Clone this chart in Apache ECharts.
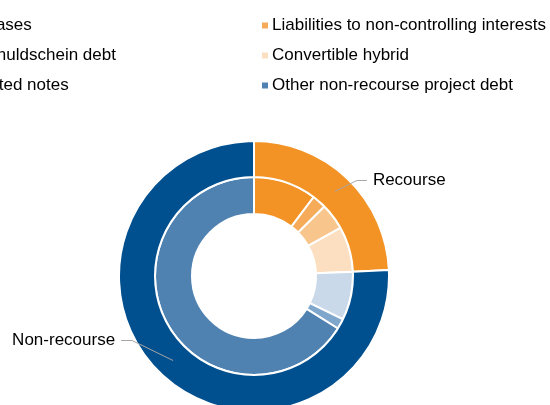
<!DOCTYPE html>
<html>
<head>
<meta charset="utf-8">
<script src="https://cdn.jsdelivr.net/npm/echarts@6/dist/echarts.min.js"></script>
<style>
  html, body { margin: 0; padding: 0; background: #fff; overflow: hidden; }
  #debt_chart { width: 550px; height: 405px; }
</style>
</head>
<body>
<div id="debt_chart"></div>
<script>
// inner ring: debt instruments (share of total, %)
var innerNames = ['Listed notes', 'Liabilities to non-controlling interests', 'Schuldschein debt',
                  'Convertible hybrid', 'Leases', 'Non-recourse bonds', 'Other non-recourse project debt'];
var innerValues = [10.3, 2.3, 4.3, 7.4, 7.9, 1.7, 66.1];
var innerColors = ['#F39325', '#F5AB5A', '#F8C68C', '#FCDFC0', '#C9D9EA', '#7FA6CB', '#4F82B1'];

// outer ring: recourse vs non-recourse
var outerNames = ['Recourse', 'Non-recourse'];
var outerValues = [24.3, 75.7];
var outerColors = ['#F39325', '#004F8F'];

// legend columns
var legendLeft = ['Leases', 'Schuldschein debt', 'Listed notes'];
var legendRight = ['Liabilities to non-controlling interests', 'Convertible hybrid', 'Other non-recourse project debt'];

var debt_chart = echarts.init(document.getElementById('debt_chart'));

function toData(names, values, colors) {
	var out = [];
	for (var i = 0; i < names.length; i++) {
		out.push({ name: names[i], value: values[i], itemStyle: { color: colors[i] } });
	}
	return out;
}

var legendBase = {
	orient: 'vertical',
	top: 17,
	padding: 0,
	icon: 'rect',
	itemWidth: 6,
	itemHeight: 6,
	itemGap: 13,
	selectedMode: false,
	itemStyle: { borderWidth: 0 },
	textStyle: { fontFamily: 'Liberation Sans, Arial', fontSize: 17, color: '#000', padding: [0, 0, 0, -1] }
};

var option = {
	animation: false,
	legend: [
		Object.assign({}, legendBase, { left: -33, data: legendLeft }),
		Object.assign({}, legendBase, { left: 262, data: legendRight })
	],
	series: [
		{
			name: 'inner',
			type: 'pie',
			center: [254, 276],
			radius: [62, 99],
			startAngle: 90,
			silent: true,
			label: { show: false },
			labelLine: { show: false },
			itemStyle: { borderColor: '#fff', borderWidth: 2 },
			data: toData(innerNames, innerValues, innerColors)
		},
		{
			name: 'outer',
			type: 'pie',
			center: [254, 276],
			radius: [99, 135],
			startAngle: 90,
			silent: true,
			label: { show: false },
			labelLine: { show: false },
			itemStyle: { borderColor: '#fff', borderWidth: 2 },
			data: toData(outerNames, outerValues, outerColors)
		},
		{
			// transparent helper so the label lines start mid-ring
			name: 'labels',
			type: 'pie',
			z: 5,
			center: [254, 276],
			radius: [0, 117],
			startAngle: 90,
			silent: true,
			itemStyle: { color: 'rgba(0,0,0,0)', borderWidth: 0 },
			label: {
				show: true,
				position: 'outside',
				fontFamily: 'Liberation Sans, Arial',
				fontSize: 17,
				color: '#000'
			},
			labelLine: { show: true, length: 20, length2: 10, smooth: false, lineStyle: { color: '#A6A6A6', width: 1 } },
			labelLayout: function (p) {
				var a = p.labelLinePoints ? p.labelLinePoints[0] : [0, 0];
				if (p.dataIndex === 0) {
					var x = a[0] + 38, y = a[1] - 11;
					return { x: x, y: y, align: 'left', verticalAlign: 'middle',
						labelLinePoints: [a, [x - 16, y], [x - 6, y]] };
				}
				var x2 = a[0] - 58, y2 = a[1] - 20;
				return { x: x2, y: y2, align: 'right', verticalAlign: 'middle',
					labelLinePoints: [a, [x2 + 17, y2], [x2 + 6, y2]] };
			},
			data: toData(outerNames, outerValues, ['rgba(0,0,0,0)', 'rgba(0,0,0,0)'])
		}
	]
};
debt_chart.setOption(option);
</script>
</body>
</html>
